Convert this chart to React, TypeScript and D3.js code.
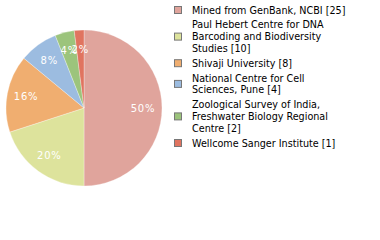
import { useEffect, useRef } from 'react';
import * as d3 from 'd3';

const labels = [
  ['Mined from GenBank, NCBI [25]'],
  ['Paul Hebert Centre for DNA', 'Barcoding and Biodiversity', 'Studies [10]'],
  ['Shivaji University [8]'],
  ['National Centre for Cell', 'Sciences, Pune [4]'],
  ['Zoological Survey of India,', 'Freshwater Biology Regional', 'Centre [2]'],
  ['Wellcome Sanger Institute [1]'],
];
const values = [25, 10, 8, 4, 2, 1];
const colors = ['#e0a49c', '#dde39c', '#f0ae70', '#9cbce0', '#9cc47c', '#e07460'];

export default function App() {
  const svgRef = useRef<SVGSVGElement>(null);

  useEffect(() => {
    if (!svgRef.current) return;
    const svg = d3.select(svgRef.current);
    svg.selectAll('*').remove();

    const cx = 84, cy = 108, r = 78;
    const total = d3.sum(values);
    const pie = d3.pie<number>().sort(null).value(d => d);
    const arcs = pie(values);
    const arc = d3.arc<d3.PieArcDatum<number>>().innerRadius(0).outerRadius(r);
    const labelArc = d3.arc<d3.PieArcDatum<number>>().innerRadius(59).outerRadius(59);

    const g = svg.append('g').attr('transform', `translate(${cx},${cy})`);

    g.selectAll('path')
      .data(arcs)
      .enter()
      .append('path')
      .attr('d', arc)
      .attr('fill', (_, i) => colors[i])
      .attr('stroke', '#fff')
      .attr('stroke-width', 0.3);

    g.selectAll('text')
      .data(arcs)
      .enter()
      .append('text')
      .attr('transform', d => `translate(${labelArc.centroid(d)})`)
      .attr('text-anchor', 'middle')
      .attr('dominant-baseline', 'central')
      .attr('fill', '#fff')
      .style('font-family', 'DejaVu Sans')
      .style('font-size', '10px')
      .style('letter-spacing', '0.8px')
      .text(d => `${Math.round((d.value / total) * 100)}%`);

    // legend
    const lineH = 11.8;
    const gap = 14.8;
    let y = 10;
    const legend = svg.append('g');
    labels.forEach((lines, i) => {
      const mid = y + ((lines.length - 1) * lineH) / 2;
      legend.append('rect')
        .attr('x', 174.5)
        .attr('y', mid - 3.5)
        .attr('width', 7)
        .attr('height', 7)
        .attr('fill', colors[i])
        .attr('stroke', '#777')
        .attr('stroke-width', 1);
      lines.forEach((t, j) => {
        legend.append('text')
          .attr('x', 192)
          .attr('y', y + j * lineH)
          .attr('dominant-baseline', 'central')
          .attr('fill', '#000')
          .style('font-family', 'DejaVu Sans Condensed')
          .style('font-size', '10.7px')
          .text(t);
      });
      y += (lines.length - 1) * lineH + gap;
    });
  }, []);

  return (
    <div style={{ position: 'absolute', left: 0, top: 0 }}>
      <svg ref={svgRef} width={380} height={240} style={{ display: 'block', background: '#fff' }} />
    </div>
  );
}
